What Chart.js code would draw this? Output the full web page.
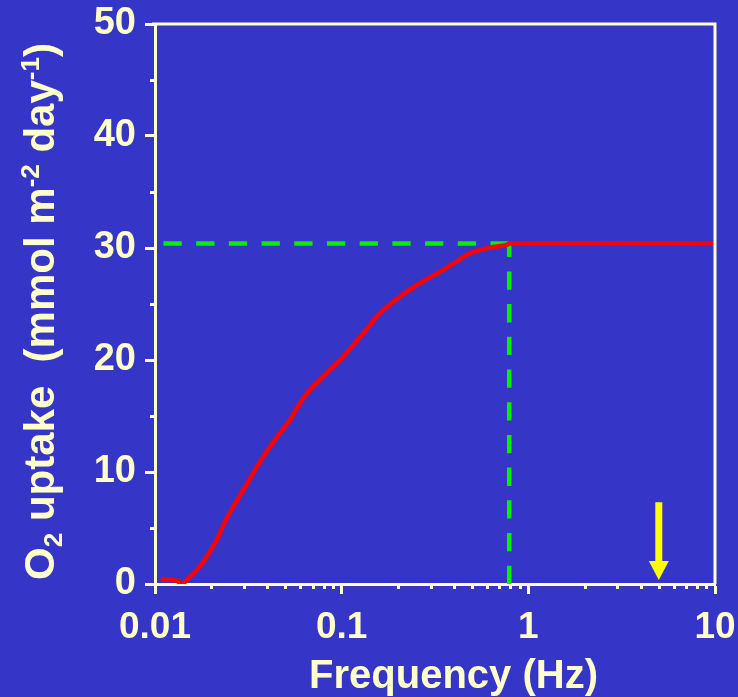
<!DOCTYPE html>
<html>
<head>
<meta charset="utf-8">
<script src="https://cdn.jsdelivr.net/npm/chart.js@4/dist/chart.umd.min.js"></script>
<style>
  html, body { margin: 0; padding: 0; background: #3535c8; }
  canvas { display: block; }
</style>
</head>
<body>
<canvas id="c" width="738" height="697"></canvas>
<script>
// ---- data ----
const freqHz = [0.01073, 0.01307, 0.0139, 0.01539, 0.01705, 0.01891, 0.0214, 0.0237, 0.02627, 0.02971,
                0.0380, 0.0467, 0.0528, 0.0598, 0.0676, 0.0865, 0.1019, 0.1305, 0.1602, 0.2051,
                0.2624, 0.3358, 0.4125, 0.4861, 0.5973, 0.7643, 0.79, 10];
const o2Uptake = [0.45, 0.29, 0.0, 0.65, 1.40, 2.44, 3.93, 5.56, 6.90, 8.39,
                  11.37, 13.46, 14.64, 16.13, 17.32, 19.11, 20.29, 22.38, 24.17, 25.65,
                  26.85, 27.88, 28.78, 29.53, 29.97, 30.27, 30.4, 30.4];
const guideHX = [0.0111, 0.79];
const guideHY = [30.4, 30.4];
const guideVX = [0.79, 0.79];
const guideVY = [0, 30.4];
const arrowX = [5];
const arrowFrom = [7.3];
const arrowTo = [0.35];
const xTickValues = [0.01, 0.1, 1, 10];
const xTickLabels = ['0.01', '0.1', '1', '10'];
const xMinorTicks = [0.02,0.03,0.04,0.05,0.06,0.07,0.08,0.09,0.2,0.3,0.4,0.5,0.6,0.7,0.8,0.9,2,3,4,5,6,7,8,9];
const yTickValues = [0, 10, 20, 30, 40, 50];
const yMinorTicks = [5, 15, 25, 35, 45];
const xTitle = 'Frequency (Hz)';
const yTitleParts = [
  { t: 'O', kind: 'n' }, { t: '2', kind: 'sub' }, { t: ' uptake  (mmol m', kind: 'n' },
  { t: '-2', kind: 'sup' }, { t: ' day', kind: 'n' }, { t: '-1', kind: 'sup' }, { t: ')', kind: 'n' }
];

// ---- styles ----
const BG = '#3535c8';
const CREAM = '#ffffcc';
const FONT = '"Liberation Sans", Arial, sans-serif';

const pts = (xs, ys) => xs.map((x, i) => ({ x, y: ys[i] }));

const decor = {
  id: 'decor',
  beforeDraw(chart) {
    const ctx = chart.ctx;
    ctx.save();
    ctx.fillStyle = BG;
    ctx.fillRect(0, 0, chart.width, chart.height);
    ctx.restore();
  },
  afterDraw(chart) {
    const ctx = chart.ctx;
    const xs = chart.scales.x, ys = chart.scales.y;
    const a = chart.chartArea;
    ctx.save();
    // box: top and right
    ctx.strokeStyle = CREAM;
    ctx.lineWidth = 3;
    ctx.beginPath();
    ctx.moveTo(a.left - 3, a.top);
    ctx.lineTo(a.right, a.top);
    ctx.lineTo(a.right, a.bottom);
    ctx.stroke();
    // minor ticks
    ctx.beginPath();
    xMinorTicks.forEach(v => {
      const px = Math.round(xs.getPixelForValue(v)) + 0.5;
      ctx.moveTo(px, a.bottom + 1);
      ctx.lineTo(px, a.bottom + 5);
    });
    yMinorTicks.forEach(v => {
      const py = Math.round(ys.getPixelForValue(v)) + 0.5;
      ctx.moveTo(a.left - 1, py);
      ctx.lineTo(a.left - 5, py);
    });
    ctx.stroke();
    // arrow
    arrowX.forEach((xv, i) => {
      const px = xs.getPixelForValue(xv);
      const p0 = ys.getPixelForValue(arrowFrom[i]);
      const p1 = ys.getPixelForValue(arrowTo[i]);
      ctx.fillStyle = '#ffff00';
      ctx.fillRect(px - 3.5, p0, 7, (p1 - 19) - p0 + 1);
      ctx.beginPath();
      ctx.moveTo(px - 10, p1 - 19);
      ctx.lineTo(px + 10, p1 - 19);
      ctx.lineTo(px, p1);
      ctx.closePath();
      ctx.fill();
    });
    // x title
    ctx.fillStyle = CREAM;
    ctx.font = 'bold 40px ' + FONT;
    ctx.textAlign = 'center';
    ctx.textBaseline = 'alphabetic';
    ctx.fillText(xTitle, 453.5, 688);
    // y title (rotated, with sub/superscripts)
    const sizes = { n: 42, sub: 26, sup: 26 };
    const dys = { n: 0, sub: 8, sup: -15 };
    let total = 0;
    yTitleParts.forEach(p => { ctx.font = 'bold ' + sizes[p.kind] + 'px ' + FONT; p.w = ctx.measureText(p.t).width; total += p.w; });
    ctx.translate(54, 311.5);
    ctx.rotate(-Math.PI / 2);
    ctx.textAlign = 'left';
    let x = -total / 2;
    yTitleParts.forEach(p => {
      ctx.font = 'bold ' + sizes[p.kind] + 'px ' + FONT;
      ctx.fillText(p.t, x, dys[p.kind]);
      x += p.w;
    });
    ctx.restore();
  }
};

new Chart(document.getElementById('c'), {
  type: 'line',
  data: {
    datasets: [
      { data: pts(freqHz, o2Uptake), borderColor: '#ff0000', borderWidth: 4.5, tension: 0.35, pointRadius: 0, fill: false },
      { data: pts(guideHX, guideHY), borderColor: '#00f000', borderWidth: 4.5, borderDash: [18.3, 14.4], pointRadius: 0, fill: false },
      { data: pts(guideVX, guideVY), borderColor: '#00f000', borderWidth: 4.5, borderDash: [18.3, 14.4], pointRadius: 0, fill: false }
    ]
  },
  options: {
    responsive: false,
    devicePixelRatio: 1,
    animation: false,
    parsing: true,
    layout: { autoPadding: false, padding: { left: 0, right: 23, top: 24, bottom: 0 } },
    plugins: { legend: { display: false }, tooltip: { enabled: false } },
    scales: {
      x: {
        type: 'logarithmic', position: 'bottom', min: 0.01, max: 10,
        afterBuildTicks: s => { s.ticks = xTickValues.map(v => ({ value: v, major: true })); },
        afterFit: s => { s.height = 113; s.paddingLeft = 0; s.paddingRight = 0; s.paddingTop = 0; s.paddingBottom = 0; },
        ticks: {
          autoSkip: false, maxRotation: 0, minRotation: 0, padding: 12, color: CREAM,
          font: { family: FONT, size: 37, weight: 'bold' },
          callback: (v, i) => xTickLabels[i]
        },
        grid: { display: true, drawOnChartArea: false, drawTicks: true, tickLength: 10, tickWidth: 3, tickColor: CREAM },
        border: { display: true, color: CREAM, width: 3 }
      },
      y: {
        type: 'linear', position: 'left', min: 0, max: 50,
        afterBuildTicks: s => { s.ticks = yTickValues.map(v => ({ value: v })); },
        afterFit: s => { s.width = 155; s.paddingLeft = 0; s.paddingRight = 0; s.paddingTop = 0; s.paddingBottom = 0; },
        ticks: {
          autoSkip: false, padding: 9, color: CREAM,
          font: { family: FONT, size: 38, weight: 'bold' },
          callback: v => String(v)
        },
        grid: { display: true, drawOnChartArea: false, drawTicks: true, tickLength: 10, tickWidth: 3, tickColor: CREAM },
        border: { display: true, color: CREAM, width: 3 }
      }
    }
  },
  plugins: [decor]
});
</script>
</body>
</html>
